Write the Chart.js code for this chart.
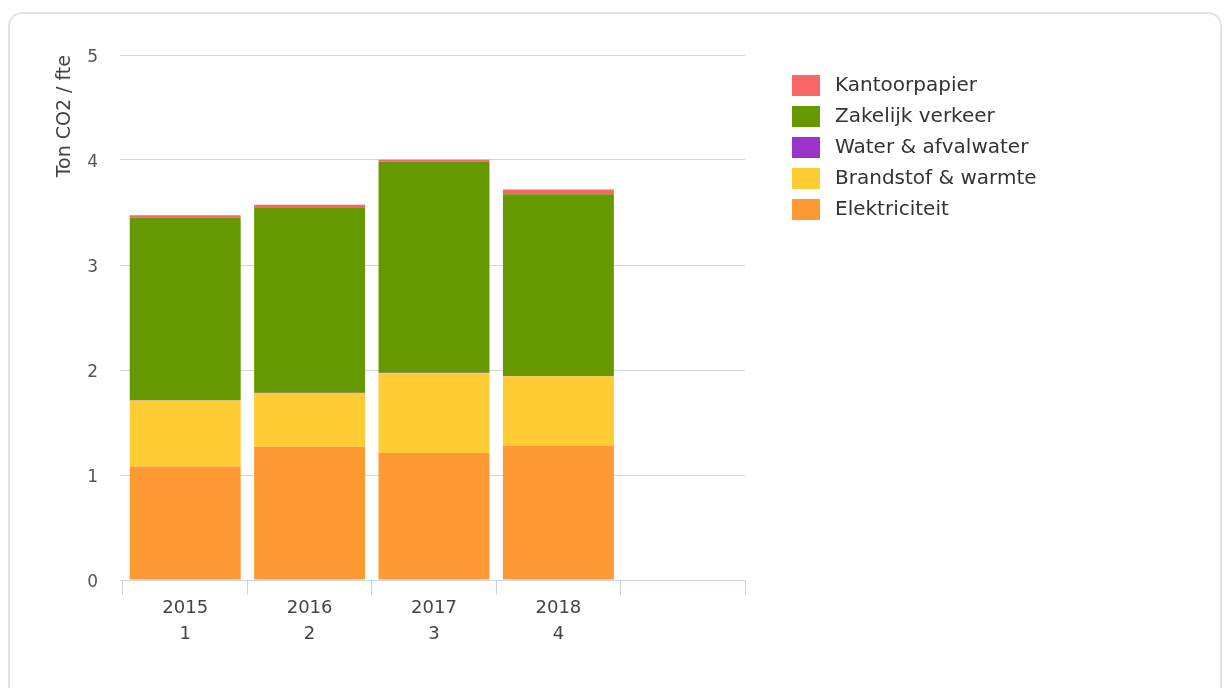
<!DOCTYPE html>
<html>
<head>
<meta charset="utf-8">
<script src="https://cdn.jsdelivr.net/npm/chart.js@4/dist/chart.umd.min.js"></script>
<style>
  html, body { margin: 0; padding: 0; background: #fff; }
  .card {
    position: absolute; left: 8px; top: 12px; width: 1210px; height: 700px;
    border: 2px solid #e3e3e3; border-radius: 14px;
  }
  #chart { position: absolute; left: 0; top: 0; }
</style>
</head>
<body>
<div class="card"></div>
<canvas id="chart" width="1227" height="688"></canvas>
<script>
// categories (fifth slot is empty in the original)
const years = ["2015", "2016", "2017", "2018", ""];
const counts = ["1", "2", "3", "4", ""];

// series values, ton CO2 per fte (bottom of the stack first)
const elektriciteit = [1.08, 1.27, 1.21, 1.28];
const brandstof = [0.63, 0.51, 0.76, 0.66];
const water = [0.003, 0.003, 0.003, 0.003];
const zakelijk = [1.74, 1.76, 2.01, 1.73];
const kantoorpapier = [0.02, 0.03, 0.02, 0.045];

const yTicks = [0, 1, 2, 3, 4, 5];

const plotRight = 745;   // right edge of the plot area
const legendShiftX = 42;
const legendShiftY = 15;
const boxInset = 5;      // white stroke trims the legend swatch to 28x21

const labels = years.map((y, i) => (y ? [y, counts[i]] : ""));

// legend sits further right than Chart.js puts it by default
const legendNudge = {
  id: "legendNudge",
  beforeLayout(chart) {
    const lg = chart.legend;
    if (!lg || lg._nudged) return;
    const fit = lg.fit.bind(lg);
    const draw = lg.draw.bind(lg);
    lg.fit = function () {
      fit();
      this.width = chart.width - plotRight;
    };
    lg.draw = function () {
      this.left += legendShiftX; this.top += legendShiftY;
      draw();
      this.left -= legendShiftX; this.top -= legendShiftY;
    };
    lg._nudged = true;
  }
};

new Chart(document.getElementById("chart"), {
  type: "bar",
  data: {
    labels: labels,
    datasets: [
      { label: "Elektriciteit", data: elektriciteit, backgroundColor: "#ff9933" },
      { label: "Brandstof & warmte", data: brandstof, backgroundColor: "#ffcc33" },
      { label: "Water & afvalwater", data: water, backgroundColor: "#9933cc" },
      { label: "Zakelijk verkeer", data: zakelijk, backgroundColor: "#669900" },
      { label: "Kantoorpapier", data: kantoorpapier, backgroundColor: "#f96666" }
    ]
  },
  options: {
    responsive: false,
    devicePixelRatio: 1,
    animation: false,
    layout: { padding: { top: 55, left: 0, right: 0, bottom: 0 } },
    datasets: {
      bar: { categoryPercentage: 1, barPercentage: 0.892, borderWidth: 0 }
    },
    scales: {
      x: {
        stacked: true,
        afterFit: (scale) => { scale.height = 108; },
        border: { display: true, color: "#ccd6eb", width: 1 },
        grid: { offset: true, drawOnChartArea: false, drawTicks: true, tickLength: 15, color: "#ccd6eb" },
        ticks: {
          color: "#444",
          padding: 0,
          maxRotation: 0,
          font: { family: "DejaVu Sans", size: 18, lineHeight: "26px" }
        }
      },
      y: {
        stacked: true,
        min: 0,
        max: 5,
        afterFit: (scale) => { scale.width = 123; },
        afterBuildTicks: (scale) => { scale.ticks = yTicks.map(v => ({ value: v })); },
        border: { display: false },
        grid: { color: "#d6d6d6", drawTicks: true, tickLength: 3 },
        ticks: {
          color: "#555",
          padding: 22,
          labelOffset: 3,
          font: { family: "DejaVu Sans", size: 17 }
        },
        title: {
          display: true,
          text: "Ton CO2 / fte",
          align: "end",
          color: "#444",
          padding: { top: 54, bottom: 0 },
          font: { family: "DejaVu Sans", size: 19 }
        }
      }
    },
    plugins: {
      legend: {
        position: "right",
        align: "start",
        reverse: true,
        labels: {
          boxWidth: 28 + 2 * boxInset,
          boxHeight: 21 + 2 * boxInset,
          padding: 0,
          color: "#333",
          font: { family: "DejaVu Sans", size: 20 },
          generateLabels: (chart) =>
            Chart.defaults.plugins.legend.labels.generateLabels(chart).map(item => ({
              ...item, lineWidth: 2 * boxInset, strokeStyle: "#fff"
            }))
        }
      },
      tooltip: { enabled: false }
    }
  },
  plugins: [legendNudge]
});
</script>
</body>
</html>
